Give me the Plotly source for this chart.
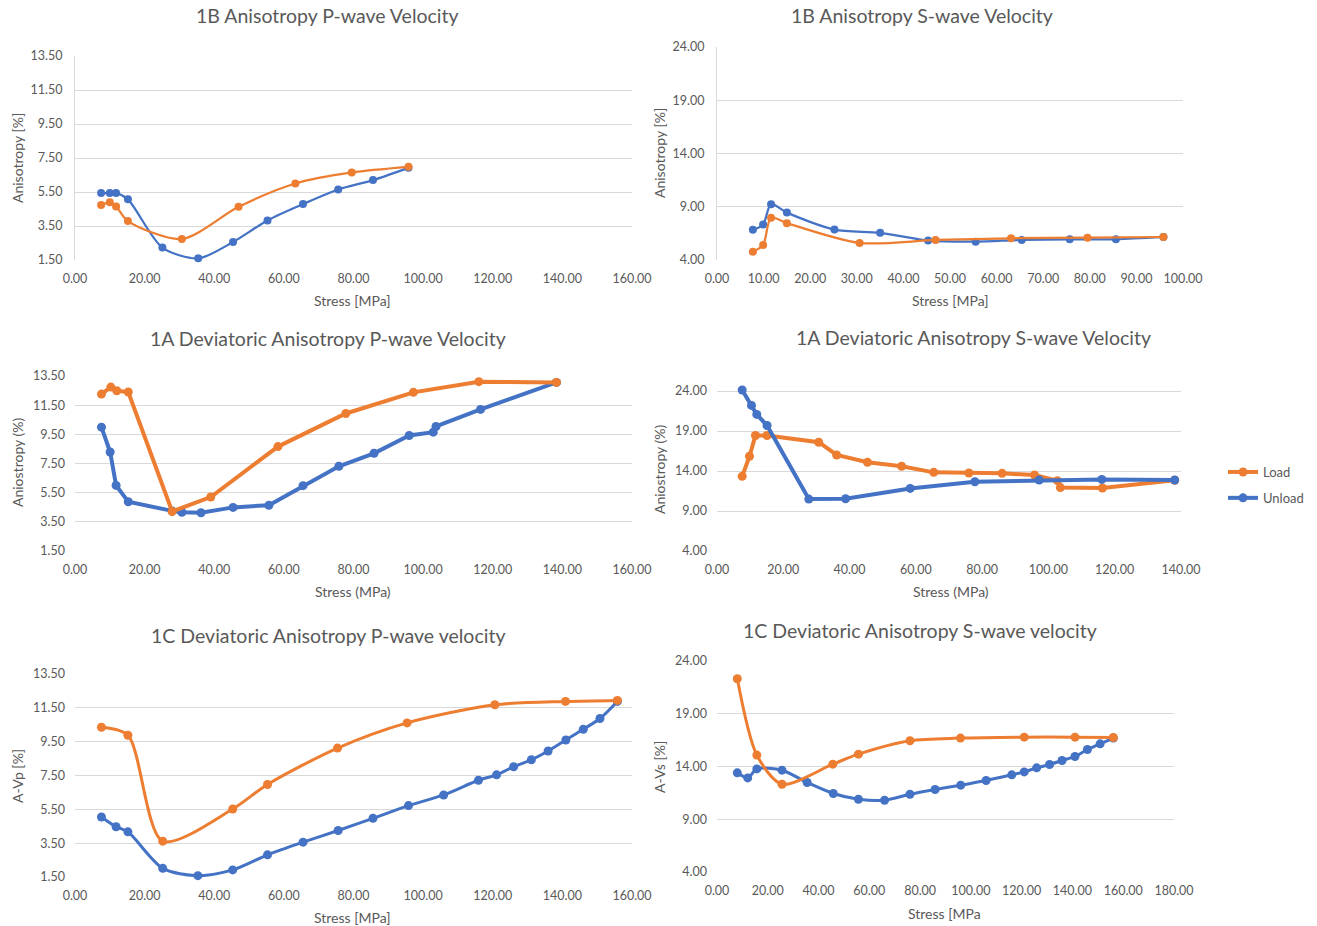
import plotly.graph_objects as go

# ---------------- data ----------------
# 1B Anisotropy P-wave Velocity
p1_load_x = [7.5, 10.0, 11.8, 15.2, 30.7, 47.0, 63.3, 79.5, 95.8]
p1_load_y = [4.73, 4.89, 4.65, 3.79, 2.74, 4.63, 6.00, 6.65, 6.98]
p1_unload_x = [7.5, 10.0, 11.8, 15.2, 25.1, 35.4, 45.4, 55.3, 65.5, 75.6, 85.6, 95.8]
p1_unload_y = [5.44, 5.44, 5.44, 5.07, 2.23, 1.60, 2.56, 3.83, 4.79, 5.65, 6.20, 6.92]

# 1B Anisotropy S-wave Velocity
p2_load_x = [7.7, 9.9, 11.6, 15.0, 30.6, 46.9, 63.1, 79.5, 95.8]
p2_load_y = [4.78, 5.42, 7.97, 7.46, 5.60, 5.88, 6.04, 6.10, 6.16]
p2_unload_x = [7.7, 9.9, 11.6, 15.0, 25.2, 35.0, 45.3, 55.5, 65.4, 75.7, 85.6, 95.8]
p2_unload_y = [6.84, 7.34, 9.23, 8.45, 6.86, 6.55, 5.82, 5.72, 5.88, 5.94, 5.94, 6.16]

# 1A Deviatoric Anisotropy P-wave Velocity
p3_load_x = [7.6, 10.3, 12.0, 15.3, 27.9, 39.0, 58.3, 77.8, 97.2, 116.0, 138.3]
p3_load_y = [12.26, 12.74, 12.49, 12.40, 4.21, 5.20, 8.66, 10.93, 12.38, 13.11, 13.06]
p3_unload_x = [7.6, 10.1, 11.8, 15.3, 27.9, 30.7, 36.2, 45.4, 55.7, 65.5, 75.8, 85.9, 96.0,
               102.9, 103.7, 116.5, 138.3]
p3_unload_y = [9.99, 8.29, 6.00, 4.88, 4.25, 4.16, 4.12, 4.49, 4.64, 5.98, 7.31, 8.20, 9.42,
               9.65, 10.04, 11.21, 13.06]

# 1A Deviatoric Anisotropy S-wave Velocity
p4_load_x = [7.6, 9.8, 11.6, 15.1, 30.7, 36.1, 45.4, 55.7, 65.4, 76.0, 86.0, 95.8, 102.7,
             103.6, 116.3, 138.1]
p4_load_y = [13.33, 15.84, 18.44, 18.44, 17.60, 16.00, 15.09, 14.59, 13.83, 13.75, 13.71,
             13.50, 12.79, 11.93, 11.88, 12.84]
p4_unload_x = [7.6, 10.4, 12.0, 15.1, 27.7, 38.8, 58.3, 77.8, 97.2, 116.1, 138.1]
p4_unload_y = [24.13, 22.20, 21.07, 19.69, 10.49, 10.53, 11.82, 12.66, 12.87, 12.95, 12.87]

# 1C Deviatoric Anisotropy P-wave velocity
p5_load_x = [7.6, 15.2, 25.2, 45.3, 55.3, 75.4, 95.4, 120.6, 140.9, 155.8]
p5_load_y = [10.35, 9.88, 3.62, 5.52, 6.97, 9.12, 10.61, 11.68, 11.88, 11.94]
p5_unload_x = [7.6, 11.8, 15.2, 25.2, 35.3, 45.3, 55.3, 65.5, 75.6, 85.6, 95.8, 105.9, 115.9,
               121.1, 126.0, 131.1, 135.9, 141.0, 146.0, 150.8, 155.8]
p5_unload_y = [5.05, 4.47, 4.17, 2.01, 1.58, 1.92, 2.81, 3.56, 4.25, 4.97, 5.72, 6.35, 7.22,
               7.54, 8.02, 8.43, 8.95, 9.60, 10.23, 10.87, 11.88]

# 1C Deviatoric Anisotropy S-wave velocity
p6_load_x = [8.0, 15.7, 25.6, 45.6, 55.7, 76.0, 95.9, 121.0, 141.0, 156.1]
p6_load_y = [22.32, 15.08, 12.32, 14.22, 15.17, 16.44, 16.69, 16.78, 16.78, 16.75]
p6_unload_x = [8.0, 12.1, 15.7, 25.6, 35.5, 45.8, 55.7, 66.0, 76.0, 85.9, 96.0, 106.0, 116.1,
               121.0, 125.9, 131.0, 135.9, 141.0, 145.9, 150.9, 156.1]
p6_unload_y = [13.40, 12.92, 13.77, 13.65, 12.48, 11.44, 10.90, 10.80, 11.37, 11.82, 12.23,
               12.67, 13.21, 13.49, 13.87, 14.19, 14.57, 14.95, 15.61, 16.15, 16.69]

titles = ["1B Anisotropy P-wave Velocity", "1B Anisotropy S-wave Velocity",
          "1A Deviatoric Anisotropy P-wave Velocity", "1A Deviatoric Anisotropy S-wave Velocity",
          "1C Deviatoric Anisotropy P-wave velocity", "1C Deviatoric Anisotropy S-wave velocity"]
x_titles = ["Stress [MPa]", "Stress [MPa]", "Stress (MPa)", "Stress (MPa)",
            "Stress [MPa]", "Stress [MPa"]
y_titles = ["Anisotropy [%]", "Anisotropy [%]", "Aniostropy (%)", "Aniostropy (%)",
            "A-Vp [%]", "A-Vs [%]"]

# ---------------- layout helpers ----------------
W, H = 1317, 926
ORANGE = "#ED7D31"
BLUE = "#4472C4"
TXT = "#595959"
GRID = "#D9D9D9"
FONT = "Lato"

def px_x(p):
    return p / W

def px_y(p):
    return 1 - p / H

# plot areas in pixels: (left, right, top, bottom)
areas = [
    (75, 632, 56, 260),
    (717, 1183, 47, 260),
    (75, 632, 376, 551),
    (717, 1181, 387.8, 551),
    (75, 632, 674, 877),
    (717, 1174, 661, 872),
]
x_ranges = [(0, 160, 20), (0, 100, 10), (0, 160, 20), (0, 140, 20), (0, 160, 20), (0, 180, 20)]
y_ranges = [(1.5, 13.5, 2), (4, 24, 5), (1.5, 13.5, 2), (4, 24.4, 5), (1.5, 13.5, 2), (4, 24, 5)]
title_pos = [(327, 16), (922, 16), (328, 338), (973, 337), (328, 635), (920, 630)]
xt_pos = [(353, 300), (950, 300), (353, 591), (951, 591), (353, 917), (945, 913)]
yt_pos = [(17, 158), (659, 153), (17, 463), (659, 470), (17, 776), (659, 767)]
left_line = [True, True, False, False, False, False]

series = [
    (p1_load_x, p1_load_y, p1_unload_x, p1_unload_y, "spline", 2.25, 8, "load_top"),
    (p2_load_x, p2_load_y, p2_unload_x, p2_unload_y, "spline", 2.25, 8, "load_top"),
    (p3_load_x, p3_load_y, p3_unload_x, p3_unload_y, "linear", 4, 9, "load_top"),
    (p4_load_x, p4_load_y, p4_unload_x, p4_unload_y, "linear", 4, 9, "unload_top"),
    (p5_load_x, p5_load_y, p5_unload_x, p5_unload_y, "spline", 3, 9, "load_top"),
    (p6_load_x, p6_load_y, p6_unload_x, p6_unload_y, "spline", 3, 9, "load_top"),
]

fig = go.Figure()
layout = dict(
    width=W, height=H,
    margin=dict(l=0, r=0, t=0, b=0, autoexpand=False),
    paper_bgcolor="white", plot_bgcolor="white",
    font=dict(family=FONT, color=TXT, size=12),
    showlegend=True,
    legend=dict(x=px_x(1223), y=px_y(457), xanchor="left", yanchor="top",
                font=dict(family=FONT, size=13, color=TXT),
                tracegroupgap=6, traceorder="grouped", itemwidth=30,
                bgcolor="rgba(0,0,0,0)"),
)
annotations = []

for i in range(6):
    n = "" if i == 0 else str(i + 1)
    L, R, T, B = areas[i]
    x0, x1, dx = x_ranges[i]
    y0, y1, dy = y_ranges[i]
    layout["xaxis" + n] = dict(
        domain=[px_x(L), px_x(R)], range=[x0, x1], dtick=dx, tick0=0,
        anchor="y" + n, showgrid=False, zeroline=False, showline=False, automargin=False,
        tickformat=".2f", ticks="", ticklabelstandoff=9,
        tickfont=dict(family=FONT, size=12.5, color=TXT),
    )
    layout["yaxis" + n] = dict(
        domain=[px_y(B), px_y(T)], range=[y0, y1], dtick=dy, tick0=y0,
        anchor="x" + n, showgrid=True, gridcolor=GRID, gridwidth=1, zeroline=False,
        showline=left_line[i], linecolor=GRID, linewidth=1, automargin=False,
        tickformat=".2f", ticks="", ticklabelstandoff=9,
        tickfont=dict(family=FONT, size=12.5, color=TXT),
    )
    annotations.append(dict(text=titles[i], x=px_x(title_pos[i][0]), y=px_y(title_pos[i][1]),
                            xref="paper", yref="paper", showarrow=False,
                            xanchor="center", yanchor="middle",
                            font=dict(family=FONT, size=19.5, color=TXT)))
    annotations.append(dict(text=x_titles[i], x=px_x(xt_pos[i][0]), y=px_y(xt_pos[i][1]),
                            xref="paper", yref="paper", showarrow=False,
                            xanchor="center", yanchor="middle",
                            font=dict(family=FONT, size=14, color=TXT)))
    annotations.append(dict(text=y_titles[i], x=px_x(yt_pos[i][0]), y=px_y(yt_pos[i][1]),
                            xref="paper", yref="paper", showarrow=False, textangle=-90,
                            xanchor="center", yanchor="middle",
                            font=dict(family=FONT, size=14, color=TXT)))

    lx, ly, ux, uy, shape, lw, ms, order = series[i]
    show = (i == 3)
    load_tr = go.Scatter(x=lx, y=ly, mode="lines+markers", name="Load",
                         line=dict(color=ORANGE, width=lw, shape=shape, smoothing=0.8),
                         marker=dict(color=ORANGE, size=ms),
                         xaxis="x" + n, yaxis="y" + n, cliponaxis=False,
                         showlegend=show, legendgroup="load", legendrank=1)
    unload_tr = go.Scatter(x=ux, y=uy, mode="lines+markers", name="Unload",
                           line=dict(color=BLUE, width=lw, shape=shape, smoothing=0.8),
                           marker=dict(color=BLUE, size=ms),
                           xaxis="x" + n, yaxis="y" + n, cliponaxis=False,
                           showlegend=show, legendgroup="unload", legendrank=2)
    if order == "load_top":
        fig.add_trace(unload_tr)
        fig.add_trace(load_tr)
    else:
        fig.add_trace(load_tr)
        fig.add_trace(unload_tr)

layout["annotations"] = annotations
fig.update_layout(**layout)
fig.write_html("out.html")
